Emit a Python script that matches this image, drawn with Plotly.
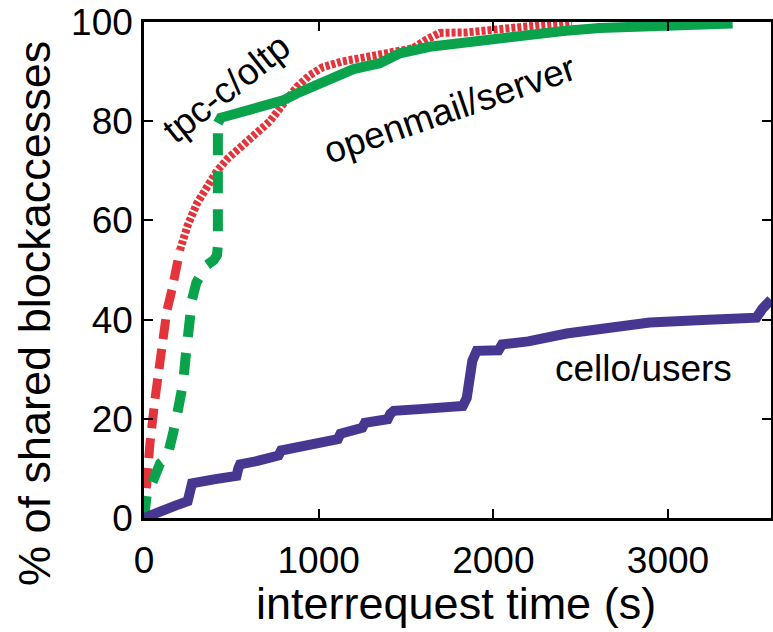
import plotly.graph_objects as go

# ---------------- data ----------------
# tpc-c/oltp : steep early part (dashed) and later part (hatched look)
tpc_x_early = [0, 5, 17, 34, 63, 92, 131, 160, 189, 206]
tpc_y_early = [0, 3, 8, 15, 24, 33, 41.8, 46, 50.5, 54]
tpc_x_late = [206, 250, 303, 360, 418, 480, 549, 630, 721, 800, 875, 950, 1024,
              1130, 1253, 1400, 1539, 1620, 1693, 1848, 2000, 2225, 2450]
tpc_y_late = [54, 59, 63.4, 67, 70, 72.5, 74.7, 77.3, 80, 83.6, 86.9, 89.3, 90.9,
              92, 92.9, 93.9, 94.7, 96.5, 97.8, 97.9, 98.4, 99, 100]

# openmail/server
om_x_early = [0, 5, 20, 46, 92, 131, 150, 166, 190, 206, 223, 240, 252, 275,
              300, 320, 360, 400, 418, 423, 423]
om_y_early = [0, 4, 6, 7, 11, 12, 14, 17, 21, 23.6, 27, 33, 37, 44,
              47.5, 49, 51, 52, 53, 55, 79.6]
om_x_late = [423, 428, 440, 492, 607, 738, 796, 875, 1000, 1064, 1200, 1350, 1465,
             1636, 1848, 2000, 2225, 2400, 2608, 2800, 2952, 3370]
om_y_late = [79.6, 80.3, 80.7, 81.2, 82.2, 83.6, 84.2, 85.6, 87.5, 88.9, 90.5, 91.7, 93.7,
             95, 96, 96.6, 97.6, 98.2, 98.8, 99.1, 99.4, 99.7]

# cello/users
cello_x = [0, 20, 80, 180, 250, 262, 275, 400, 530, 540, 550, 650, 770, 785, 960,
           1000, 1110, 1125, 1250, 1265, 1395, 1410, 1430, 1600, 1825, 1848, 1865,
           1880, 1905, 2030, 2050, 2200, 2420, 2650, 2895, 3200, 3507, 3541, 3582, 3590]
cello_y = [0, 0.3, 1.4, 2.5, 3.4, 5.5, 7, 7.8, 8.5, 10, 10.8, 11.5, 12.6, 13.6, 14.9,
           15.3, 15.9, 17, 18.2, 19.2, 19.9, 21, 21.6, 22, 22.6, 24.2, 28,
           31.7, 33.7, 33.8, 35, 35.6, 37.2, 38.3, 39.4, 39.9, 40.4, 42.2, 43.8, 44]

x_ticks = [0, 1000, 2000, 3000]
y_ticks = [0, 20, 40, 60, 80, 100]

RED = "#E2343A"
GREEN = "#0AA24A"
PURPLE = "#483791"
FONT = "Liberation Sans, Arial, Helvetica, sans-serif"

fig = go.Figure()
fig.add_trace(go.Scatter(x=tpc_x_late, y=tpc_y_late, mode="lines",
                         line=dict(color=RED, width=8, dash="4px,2px"),
                         name="tpc-c/oltp", showlegend=False))
fig.add_trace(go.Scatter(x=tpc_x_early, y=tpc_y_early, mode="lines",
                         line=dict(color=RED, width=9, dash="20px,10px"),
                         name="tpc-c/oltp", showlegend=False))
fig.add_trace(go.Scatter(x=om_x_early, y=om_y_early, mode="lines",
                         line=dict(color=GREEN, width=10, dash="22px,16px"),
                         name="openmail/server", showlegend=False))
fig.add_trace(go.Scatter(x=om_x_late, y=om_y_late, mode="lines",
                         line=dict(color=GREEN, width=10),
                         name="openmail/server", showlegend=False))
fig.add_trace(go.Scatter(x=cello_x, y=cello_y, mode="lines",
                         line=dict(color=PURPLE, width=10),
                         name="cello/users", showlegend=False))

axis_common = dict(showgrid=False, zeroline=False, showline=True, linecolor="black",
                   linewidth=2.5, mirror="ticks", ticks="inside", ticklen=9,
                   tickwidth=2, tickcolor="black", automargin=False,
                   tickfont=dict(family=FONT, size=37, color="black"))

fig.update_xaxes(range=[0, 3590], tickvals=x_ticks, ticktext=[str(v) for v in x_ticks],
                 ticklabelstandoff=8, **axis_common)
fig.update_yaxes(range=[0, 100], tickvals=y_ticks, ticktext=[str(v) for v in y_ticks],
                 ticklabelstandoff=1, **axis_common)

title_font = dict(family=FONT, size=45, color="black")
fig.add_annotation(xref="paper", yref="paper", x=(456 - 144) / 627, y=-(603 - 518) / 496,
                   text="interrequest time (s)", showarrow=False, font=title_font,
                   xanchor="center", yanchor="middle")
fig.add_annotation(xref="paper", yref="paper", x=-(144 - 35) / 627, y=(518 - 314) / 496,
                   text="% of shared blockaccesses", showarrow=False, font=title_font,
                   textangle=-90, xanchor="center", yanchor="middle")

ann_font = dict(family=FONT, size=37, color="black")
fig.add_annotation(x=(226 - 144) / 627 * 3590, y=(518 - 88) / 4.96, text="tpc-c/oltp",
                   textangle=-38.5, showarrow=False, font=ann_font)
fig.add_annotation(x=(449 - 144) / 627 * 3590, y=(518 - 109) / 4.96, text="openmail/server",
                   textangle=-19, showarrow=False, font=ann_font)
fig.add_annotation(x=(643 - 144) / 627 * 3590, y=(518 - 368) / 4.96, text="cello/users",
                   showarrow=False, font=ann_font)

fig.update_layout(width=773, height=632, paper_bgcolor="white", plot_bgcolor="white",
                  margin=dict(l=144, r=2, t=22, b=114), font=dict(family=FONT))

fig.write_html("out.html", config={"displayModeBar": False})

# remove the default browser body margin so the figure sits at the window's corner
with open("out.html", "r", encoding="utf-8") as f:
    html = f.read()
html = html.replace("<body>", '<body style="margin:0;padding:0;overflow:hidden">', 1)
with open("out.html", "w", encoding="utf-8") as f:
    f.write(html)
